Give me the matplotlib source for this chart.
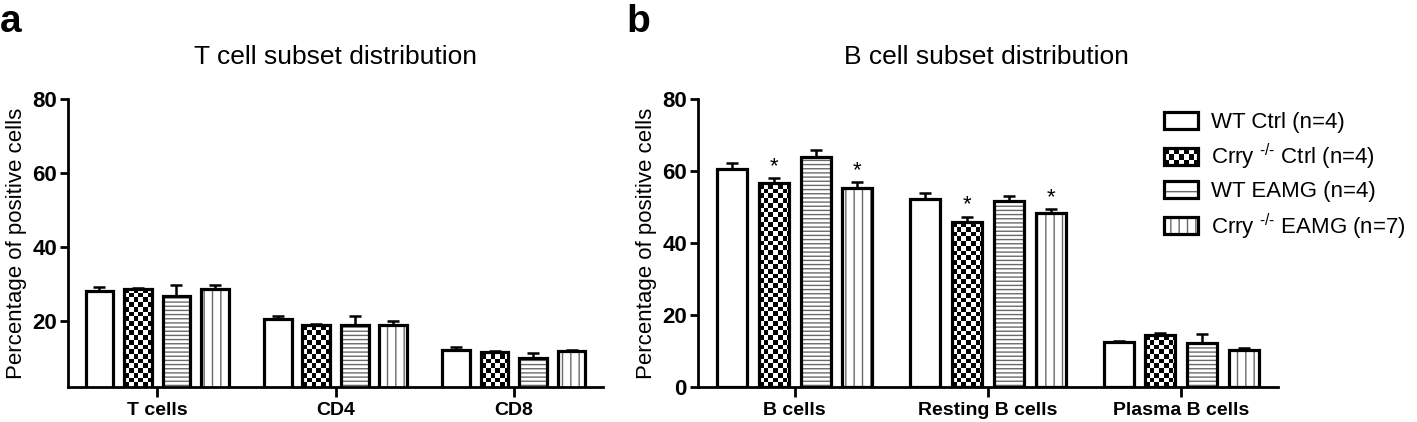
import numpy as np
import matplotlib
matplotlib.use("Agg")
import matplotlib.pyplot as plt
from matplotlib.patches import Rectangle
from matplotlib.legend_handler import HandlerBase

plt.rcParams['font.family'] = ['Liberation Sans', 'DejaVu Sans']
plt.rcParams['hatch.linewidth'] = 1.0

# data
groups = ['WT Ctrl (n=4)', 'Crry $^{\\mathregular{\u2010/\u2010}}$ Ctrl (n=4)',
          'WT EAMG (n=4)', 'Crry $^{\\mathregular{\u2010/\u2010}}$ EAMG (n=7)']

t_labels = ['T cells', 'CD4', 'CD8']
t_means = [[28.0, 20.6, 12.2],
           [28.6, 18.9, 11.6],
           [26.8, 19.0, 10.0],
           [28.6, 18.9, 11.9]]
t_sem = [[1.1, 0.8, 0.8],
         [0.3, 0.3, 0.3],
         [2.9, 2.4, 1.4],
         [1.1, 1.1, 0.3]]

b_labels = ['B cells', 'Resting B cells', 'Plasma B cells']
b_means = [[60.6, 52.2, 12.5],
           [56.7, 45.8, 14.4],
           [63.9, 51.7, 12.2],
           [55.3, 48.3, 10.3]]
b_sem = [[1.6, 1.6, 0.3],
         [1.3, 1.4, 0.5],
         [1.9, 1.3, 2.5],
         [1.6, 1.1, 0.5]]
# significance stars: (group index, category index)
b_stars = [(1, 0), (3, 0), (1, 1), (3, 1)]

hatches = [None, 'checker', '----', '||']

W, H = 1417, 422
fig = plt.figure(figsize=(W / 100, H / 100), dpi=100)
ax1 = fig.add_axes([68 / W, 1 - 387 / H, (603 - 68) / W, (387 - 99) / H])
ax2 = fig.add_axes([698 / W, 1 - 387 / H, (1278 - 698) / W, (387 - 99) / H])

bar_w = 0.155
step = 0.216
cell_px = 4.7


def checker_fill(ax, rect):
    x0, y0 = rect.get_x(), max(rect.get_y(), ax.get_ylim()[0])
    w, h = rect.get_width(), rect.get_y() + rect.get_height() - y0
    p0 = ax.transData.transform((0, 0))
    p1 = ax.transData.transform((1, 1))
    cw = cell_px / (p1[0] - p0[0])
    ch = cell_px / (p1[1] - p0[1])
    nc = int(np.ceil(w / cw))
    nr = int(np.ceil(h / ch))
    arr = (np.indices((nr, nc)).sum(axis=0) % 2).astype(float)
    im = ax.imshow(arr, cmap='gray', extent=(x0, x0 + nc * cw, y0, y0 + nr * ch),
                   origin='lower', interpolation='nearest', aspect='auto', zorder=2.2)
    im.set_clip_path(rect)


def draw_panel(ax, labels, means, sems, ylim, yticks, stars=()):
    ax.set_xlim(-0.5, 2.5)
    ax.set_ylim(*ylim)
    x = np.arange(len(labels))
    for g in range(4):
        xs = x + (g - 1.5) * step
        h = hatches[g]
        if h == 'checker':
            base = ax.bar(xs, means[g], bar_w, color='white', linewidth=0, zorder=2)
            for r in base:
                checker_fill(ax, r)
        else:
            ax.bar(xs, means[g], bar_w, color='white', edgecolor='#6a6a6a',
                   linewidth=0, hatch=h, zorder=2)
        ax.bar(xs, means[g], bar_w, fill=False, edgecolor='black', linewidth=2.3, zorder=3)
        ax.errorbar(xs, means[g], yerr=[np.zeros(len(xs)), sems[g]], fmt='none',
                    ecolor='black', elinewidth=1.8, capsize=4, capthick=1.8, zorder=2.5)
    for g, c in stars:
        xp = c + (g - 1.5) * step
        ax.text(xp, means[g][c] + sems[g][c] + 0.4, '*', ha='center', va='bottom',
                fontsize=16)
    ax.set_xlim(-0.5, 2.5)
    ax.set_ylim(*ylim)
    ax.set_xticks(x)
    ax.set_xticklabels(labels, fontweight='bold', fontsize=14)
    ax.set_yticks(yticks)
    ax.set_yticklabels([str(v) for v in yticks], fontweight='bold', fontsize=16)
    for s in ['top', 'right']:
        ax.spines[s].set_visible(False)
    for s in ['left', 'bottom']:
        ax.spines[s].set_linewidth(2.0)
    ax.tick_params(axis='both', width=2.0, length=6, pad=2)
    ax.tick_params(axis='x', length=7, pad=4)
    ax.set_ylabel('Percentage of positive cells', fontsize=16, labelpad=4)


draw_panel(ax1, t_labels, t_means, t_sem, (2.2, 80), [20, 40, 60, 80])
draw_panel(ax2, b_labels, b_means, b_sem, (0, 80), [0, 20, 40, 60, 80], b_stars)

fig.text(335 / W, 1 - 57 / H, 'T cell subset distribution', ha='center', va='center', fontsize=19)
fig.text(986 / W, 1 - 57 / H, 'B cell subset distribution', ha='center', va='center', fontsize=19)
fig.text(0 / W, 1 - 22 / H, 'a', ha='left', va='center', fontsize=28, fontweight='bold')
fig.text(626 / W, 1 - 22 / H, 'b', ha='left', va='center', fontsize=28, fontweight='bold')


class CheckerHandler(HandlerBase):
    def create_artists(self, legend, orig_handle, xdescent, ydescent, width, height, fontsize, trans):
        arts = []
        nc = 7
        cw = width / nc
        nr = max(1, int(round(height / cw)))
        chh = height / nr
        for i in range(nc):
            for j in range(nr):
                if (i + j) % 2 == 0:
                    arts.append(Rectangle((-xdescent + i * cw, -ydescent + j * chh), cw, chh,
                                          facecolor='black', edgecolor='none', transform=trans))
        arts.append(Rectangle((-xdescent, -ydescent), width, height, facecolor='none',
                              edgecolor='black', linewidth=2.3, transform=trans))
        return arts


class HatchHandler(HandlerBase):
    def create_artists(self, legend, orig_handle, xdescent, ydescent, width, height, fontsize, trans):
        r = Rectangle((-xdescent, -ydescent), width, height, facecolor='white',
                      edgecolor='#6a6a6a', linewidth=0, hatch=orig_handle.get_hatch(), transform=trans)
        o = Rectangle((-xdescent, -ydescent), width, height, facecolor='none',
                      edgecolor='black', linewidth=2.3, transform=trans)
        return [r, o]


handles = [Rectangle((0, 0), 1, 1, hatch=None),
           Rectangle((0, 0), 1, 1),
           Rectangle((0, 0), 1, 1, hatch='-'),
           Rectangle((0, 0), 1, 1, hatch='||')]
hmap = {handles[0]: HatchHandler(), handles[1]: CheckerHandler(),
        handles[2]: HatchHandler(), handles[3]: HatchHandler()}
fig.legend(handles, groups, handler_map=hmap, loc='upper left',
           bbox_to_anchor=(1144 / W, 1 - 92 / H), frameon=False, fontsize=16,
           handlelength=1.55, handleheight=0.8, labelspacing=0.4, handletextpad=0.55)

fig.savefig('out.png', dpi=100)
